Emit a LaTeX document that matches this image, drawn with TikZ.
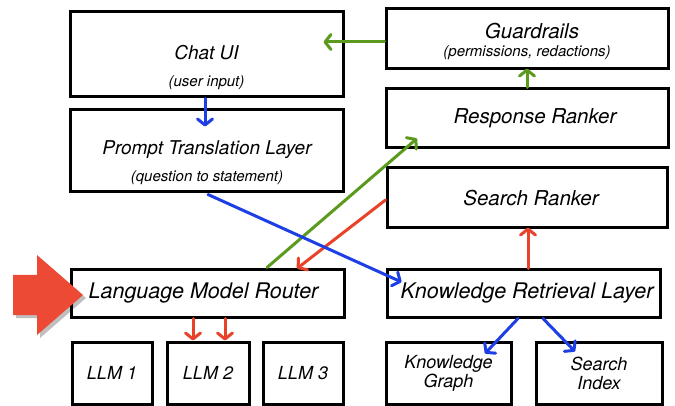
\documentclass[tikz,border=0pt]{standalone}
\usepackage{fontspec}
\setmainfont{TeX Gyre Heros}
\usetikzlibrary{arrows.meta,calc,shadows}
\definecolor{cblue}{HTML}{1E3FE6}
\definecolor{cgreen}{HTML}{5B9A1C}
\definecolor{cred}{HTML}{E8432A}
\definecolor{bigred}{HTML}{EC4A35}
\tikzset{
  box/.style={draw=black,line width=3pt,fill=white,inner sep=0pt},
  ttl/.style={font=\fontsize{20.5}{22}\selectfont\itshape,inner sep=0pt},
  ttlb/.style={font=\fontsize{21.5}{23}\selectfont\itshape,inner sep=0pt},
  ttls/.style={font=\fontsize{19}{21}\selectfont\itshape,inner sep=0pt},
  sub/.style={font=\fontsize{15}{17}\selectfont\itshape,inner sep=0pt},
  small/.style={font=\fontsize{18}{21}\selectfont\itshape,align=center},
  conn/.style={line width=3pt,line cap=round,-{Straight Barb[length=6pt,width=15pt,line cap=round,line join=round]}},
}
\begin{document}
\begin{tikzpicture}[x=1pt,y=-1pt]
\useasboundingbox (0,0) rectangle (675,406);
% boxes
\node[box,minimum width=273pt,minimum height=85pt] (chat) at (206.5,54.5) {};
\node[ttls] (chatT) at (206.5,53) {Chat UI};
\node[sub] (chatS) at (206.5,83) {(user input)};
\node[box,minimum width=273pt,minimum height=82pt] (prompt) at (206.5,151) {};
\node[ttls] (promptT) at (207,150) {Prompt Translation Layer};
\node[sub] (promptS) at (207,178) {(question to statement)};
\node[box,minimum width=282pt,minimum height=60pt] (guard) at (527,39) {};
\node[ttl] (guardT) at (532,31) {Guardrails};
\node[sub] (guardS) at (527,53) {(permissions, redactions)};
\node[box,minimum width=282pt,minimum height=59pt] (resp) at (527,118.5) {};
\node[ttl] (respT) at (535,118) {Response Ranker};
\node[box,minimum width=280pt,minimum height=60pt] (search) at (527,198) {};
\node[ttl] (searchT) at (531,198) {Search Ranker};
\node[box,minimum width=273pt,minimum height=47pt] (kr) at (523.5,293.5) {};
\node[ttlb] (krT) at (527,293) {Knowledge Retrieval Layer};
\node[box,minimum width=273pt,minimum height=47pt] (router) at (207.5,293.5) {};
\node[ttlb] (routerT) at (203.5,293) {Language Model Router};
\node[box,minimum width=80pt,minimum height=62pt,small] (llm1) at (112,373) {LLM 1};
\node[box,minimum width=82pt,minimum height=62pt,small] (llm2) at (208,373) {LLM 2};
\node[box,minimum width=80pt,minimum height=62pt,small] (llm3) at (303,373) {LLM 3};
\node[box,minimum width=125pt,minimum height=62pt,small] (kg) at (448.5,373) {Knowledge\\[-2pt]Graph};
\node[box,minimum width=126pt,minimum height=62pt,small] (si) at (599,373) {Search\\[-2pt]Index};
% connectors
\draw[conn,cblue] ($(chat.south)+(-1.5,0)$) -- ($(prompt.north)+(-1.5,18)$);
\draw[conn,cgreen] ($(guard.west)+(0,3)$) -- ($(guard.west -| chat.east)+(-21,3)$);
\draw[conn,cgreen] (resp.north) -- ($(guard.south)+(0,-2)$);
\draw[conn,cgreen] ($(router.north)+(59.5,-1)$) -- ($(resp.south)+(-110,-11)$);
\draw[conn,cred] ($(search.west)+(0,2)$) -- ($(router.north)+(89.5,0)$);
\draw[conn,cblue] ($(prompt.south)+(1.5,1)$) -- ($(kr.west)+(16,-11.5)$);
\draw[conn,cred] ($(kr.north)+(4.5,0)$) -- ($(search.south)+(1,-2)$);
\draw[conn,cblue] ($(kr.south)+(-5.5,0)$) -- ($(kg.north)+(36.5,13)$);
\draw[conn,cblue] ($(kr.south)+(19.5,0)$) -- ($(si.north)+(-24,11)$);
\draw[conn,cred] ($(router.south)+(-14.5,0)$) -- ($(llm2.north)+(-15,0)$);
\draw[conn,cred] ($(router.south)+(17.5,0)$) -- ($(llm2.north)+(17,0)$);
% big red arrow
\fill[bigred,drop shadow={shadow xshift=3pt,shadow yshift=-3pt,opacity=0.25,fill=black}]
  (13,275) -- (37,275) -- (37,255) -- (83,295) -- (37,335) -- (37,315) -- (13,315) -- cycle;
\end{tikzpicture}
\end{document}
